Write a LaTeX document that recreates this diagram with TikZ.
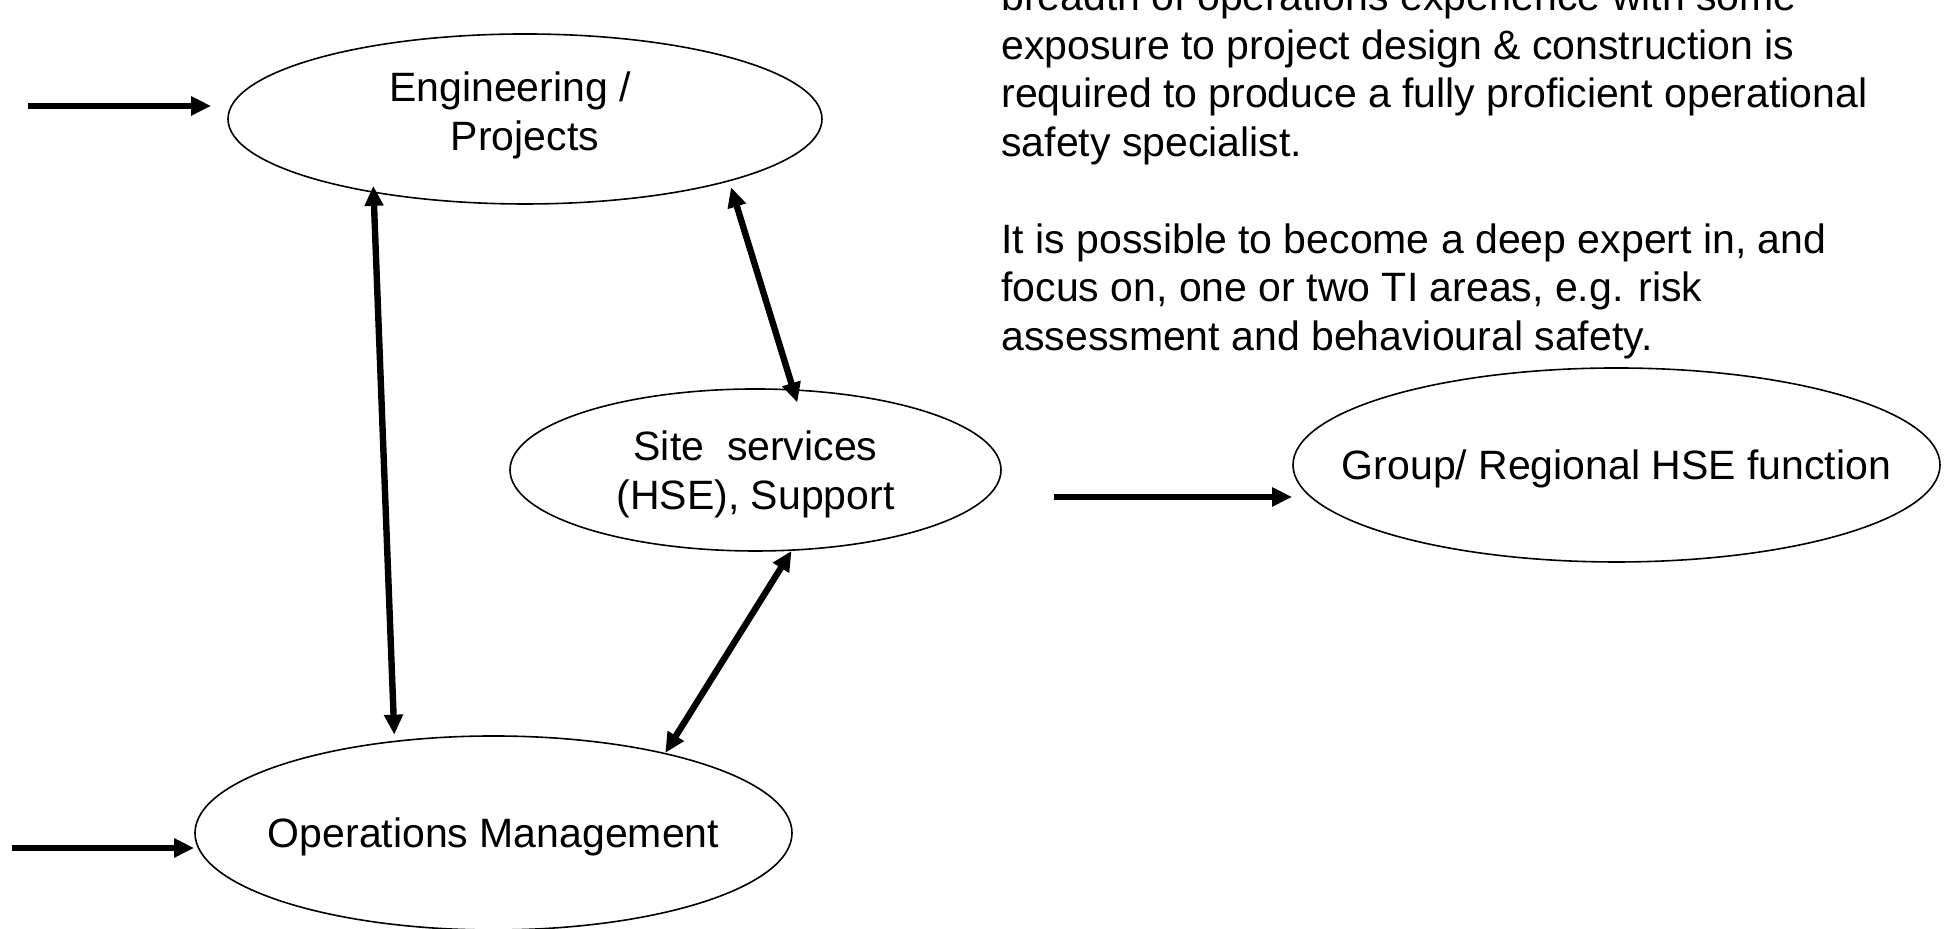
\documentclass[tikz,border=0pt]{standalone}
\usepackage{fontspec}
\setmainfont{Liberation Sans}
\usetikzlibrary{arrows.meta,shapes.geometric}

\begin{document}
\begin{tikzpicture}[x=0.5pt, y=0.5pt,
  unit/.style={draw, ellipse, line width=0.8pt, inner xsep=-40pt, inner ysep=0pt, align=center, font=\fontsize{20.5}{24.25}\selectfont},
  arr/.style={-{Triangle[length=10pt,width=9pt]}, line width=3.2pt},
  dbl/.style={{Triangle[length=10pt,width=9pt]}-{Triangle[length=10pt,width=9pt]}, line width=3.2pt}]
\useasboundingbox (0,0) rectangle (1950,929);
\node[unit, minimum width=297pt, minimum height=85pt, text depth=8pt] (eng) at (525,810) {Engineering /\hspace*{15pt}\\Projects};
\node[unit, minimum width=245.5pt, minimum height=81pt, text depth=-3pt] (site) at (755.5,459) {Site\ \ services\\(HSE), Support};
\node[unit, minimum width=298.5pt, minimum height=97pt, text depth=-1.7pt] (ops) at (493.5,96) {Operations Management};
\node[unit, minimum width=323.5pt, minimum height=97pt, text depth=-0.7pt] (grp) at (1616.5,464) {Group/ Regional HSE function};
\node[anchor=west, align=left, inner sep=0pt, font=\fontsize{20.5}{24.25}\selectfont] (note) at (1001,759)
  {breadth of operations experience with some\\
   exposure to project design \& construction is\\
   required to produce a fully proficient operational\\
   safety specialist.\\[24.25pt]
   It is possible to become a deep expert in, and\\
   focus on, one or two TI areas, e.g. risk\\
   assessment and behavioural safety.};
\coordinate (engin) at (28,823);
\coordinate (opsin) at (12,81);
\coordinate (grpin) at (1054,432);
\draw[arr, shorten >=8pt] (engin) -- (engin -| eng.west);
\foreach \c/\n in {opsin/ops, grpin/grp} \draw[arr] (\c) -- (\c -| \n.west);
\draw[dbl, shorten <=-3.5pt, shorten >=3pt] (eng.206.7) -- (ops.137.4);
\draw[dbl, shorten <=3pt, shorten >=-7pt] (eng.343.2) -- (site.65.5);
\draw[dbl] (site.294.5) -- (ops.25.4);
\end{tikzpicture}
\end{document}
